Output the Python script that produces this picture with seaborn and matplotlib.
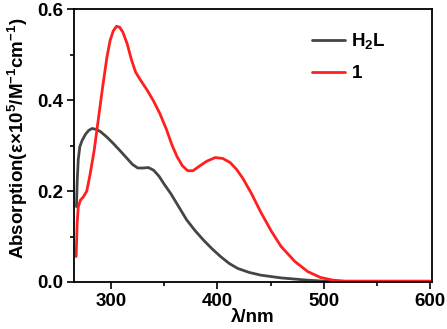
import numpy as np
import pandas as pd
import matplotlib
matplotlib.use("Agg")
import matplotlib.pyplot as plt
from matplotlib.ticker import MultipleLocator
import seaborn as sns

# wavelengths (nm) and absorption for the free ligand H2L
x_h2l = [267.3, 268, 269, 270.5, 272.7, 276, 279, 282, 286, 290, 296, 302, 308, 315,
         320, 325, 330, 335, 340, 345, 350, 356, 363, 371, 379, 387, 395, 403, 411,
         419, 430, 441, 460, 485, 500, 505]
y_h2l = [0.166, 0.22, 0.27, 0.298, 0.312, 0.326, 0.334, 0.338, 0.336, 0.331, 0.319,
         0.305, 0.29, 0.272, 0.259, 0.251, 0.251, 0.252, 0.246, 0.233, 0.215, 0.195,
         0.168, 0.137, 0.113, 0.092, 0.073, 0.056, 0.041, 0.030, 0.021, 0.015, 0.009,
         0.004, 0.002, 0.002]

# wavelengths (nm) and absorption for complex 1
x_c1 = [267, 268, 269, 271, 274, 277, 280, 284, 288, 292, 296, 299, 302, 305, 308,
        311, 315, 319, 323, 328, 334, 340, 346, 352, 357, 362, 367, 372, 377, 383,
        390, 398, 405, 412, 418, 424, 432, 441, 451, 460, 473, 485, 497, 509, 520, 600]
y_c1 = [0.056, 0.13, 0.165, 0.18, 0.188, 0.2, 0.235, 0.29, 0.36, 0.43, 0.495, 0.532,
        0.553, 0.563, 0.561, 0.55, 0.525, 0.49, 0.462, 0.443, 0.422, 0.398, 0.37,
        0.336, 0.303, 0.276, 0.256, 0.245, 0.245, 0.255, 0.266, 0.274, 0.272, 0.263,
        0.248, 0.228, 0.195, 0.153, 0.111, 0.078, 0.045, 0.023, 0.010, 0.004, 0.002,
        0.002]

sns.set_style("ticks")
plt.rcParams["font.family"] = ["Liberation Sans", "DejaVu Sans"]
plt.rcParams["font.weight"] = "bold"
plt.rcParams["text.color"] = "black"
plt.rcParams["axes.labelcolor"] = "black"
plt.rcParams["xtick.color"] = "black"
plt.rcParams["ytick.color"] = "black"
plt.rcParams["mathtext.fontset"] = "custom"
plt.rcParams["mathtext.rm"] = "Liberation Sans:bold"
plt.rcParams["mathtext.bf"] = "Liberation Sans:bold"
plt.rcParams["mathtext.it"] = "Liberation Sans:bold"

fs = 13.5

fig = plt.figure(figsize=(4.47, 3.29), dpi=100)
ax = fig.add_axes([74 / 447, 1 - 282 / 329, 358 / 447, 272.5 / 329])

sns.lineplot(x=x_h2l, y=y_h2l, ax=ax, color="#454545", linewidth=2.0,
             label=r"H$_{\mathbf{2}}$L")
sns.lineplot(x=x_c1, y=y_c1, ax=ax, color="#ff1f1f", linewidth=2.0, label="1")

ax.set_xlim(265, 602)
ax.set_ylim(0, 0.6)
ax.xaxis.set_major_locator(MultipleLocator(100))
ax.xaxis.set_minor_locator(MultipleLocator(50))
ax.yaxis.set_major_locator(MultipleLocator(0.2))
ax.yaxis.set_minor_locator(MultipleLocator(0.1))
ax.tick_params(which="major", length=5, width=1.2, labelsize=fs, direction="out", pad=3)
ax.tick_params(which="minor", length=3, width=1.2, direction="out")
for lab in ax.get_xticklabels() + ax.get_yticklabels():
    lab.set_fontweight("bold")
for s in ax.spines.values():
    s.set_linewidth(1.3)
    s.set_color("black")

ax.set_xlabel("λ/nm", fontsize=fs, fontweight="bold", labelpad=-1)
ax.set_ylabel(r"Absorption(ε×10$^5$/M$^{-1}$cm$^{-1}$)", fontsize=fs,
              fontweight="bold", labelpad=5, y=0.527)

leg = ax.legend(loc="upper left", bbox_to_anchor=(0.665, 0.92), frameon=False,
                borderpad=0, borderaxespad=0, handlelength=1.75, handletextpad=0.35,
                labelspacing=0.75, prop={"weight": "bold", "size": fs})

fig.savefig("out.png", dpi=100)
